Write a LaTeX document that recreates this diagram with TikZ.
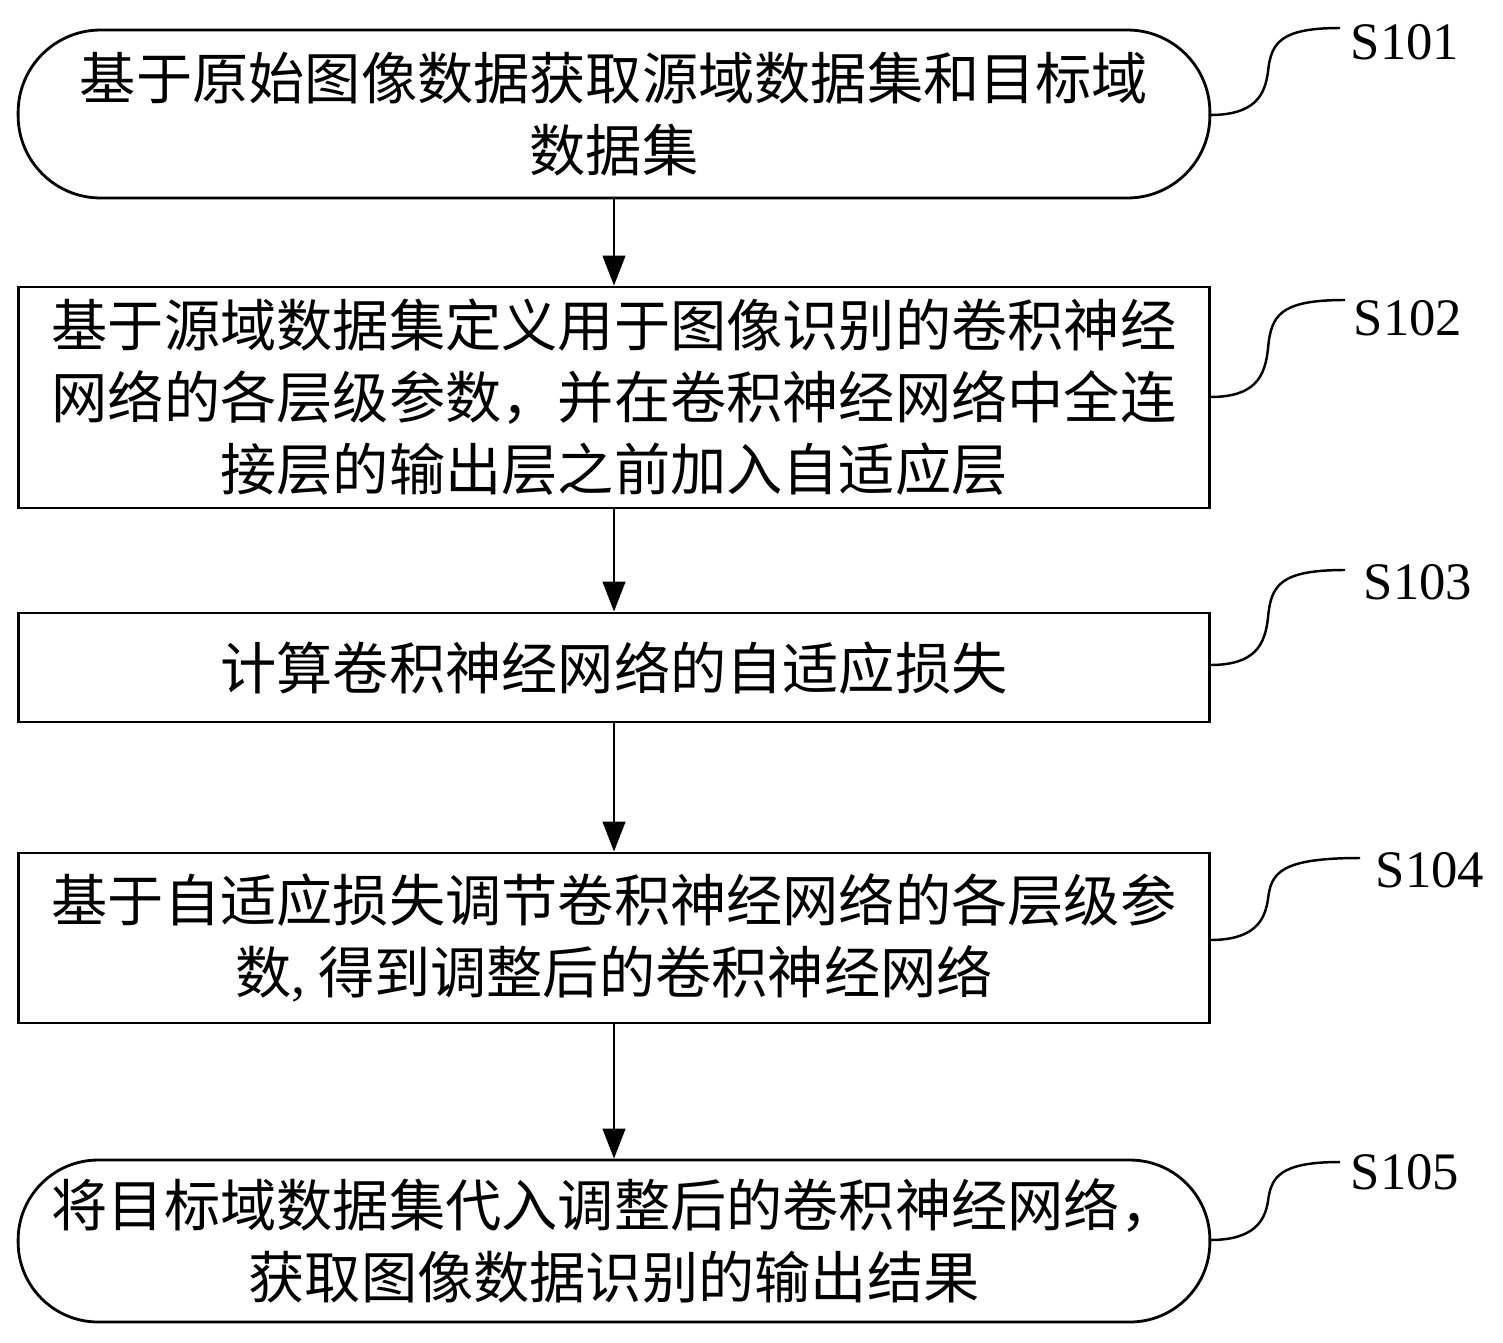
\documentclass[tikz,border=0pt]{standalone}
\usepackage{fontspec}
\setmainfont{Liberation Serif}
\newfontfamily\cjk{Noto Sans CJK SC}
\usetikzlibrary{arrows.meta}
\tikzset{
  stepbox/.style={draw,line width=1.6pt,minimum width=23.84cm,align=center,font=\cjk\fontsize{32}{41}\selectfont},
  flow/.style={-{Triangle[length=0.6cm,width=0.45cm]},line width=1.6pt},
  leader/.style={line width=1.4pt},
  steplabel/.style={font=\fontsize{30}{36}\selectfont}
}
\begin{document}
\begin{tikzpicture}[x=0.02cm,y=-0.02cm]
	\useasboundingbox (0,0) rectangle (1503,1342);
	\node[stepbox,rounded corners=1.65cm,minimum height=3.36cm] (s1) at (614,114) {基于原始图像数据获取源域数据集和目标域\\数据集};
	\node[stepbox,minimum height=4.42cm] (s2) at (614,397.5) {基于源域数据集定义用于图像识别的卷积神经\\网络的各层级参数，并在卷积神经网络中全连\\接层的输出层之前加入自适应层};
	\node[stepbox,minimum height=2.18cm] (s3) at (614,667.5) {计算卷积神经网络的自适应损失};
	\node[stepbox,minimum height=3.4cm] (s4) at (614,938) {基于自适应损失调节卷积神经网络的各层级参\\数{\rmfamily,} 得到调整后的卷积神经网络};
	\node[stepbox,rounded corners=1.6cm,minimum height=3.24cm] (s5) at (614,1241) {将目标域数据集代入调整后的卷积神经网络，\\获取图像数据识别的输出结果};
	% arrows
	\draw[flow] (s1) -- (s2);
	\draw[flow] (s2) -- (s3);
	\draw[flow] (s3) -- (s4);
	\draw[flow] (s4) -- (s5);
	% labels
	\node[steplabel] (l1) at (1405,42) {S101};
	\node[steplabel] (l2) at (1408,318) {S102};
	\node[steplabel] (l3) at (1418,582) {S103};
	\node[steplabel] (l4) at (1430,870) {S104};
	\node[steplabel] (l5) at (1405,1172) {S105};
	\foreach \n/\y/\t/\e in {1/115/28/1340,2/397/300/1345,3/665/570/1345,4/940/858/1360,5/1240/1162/1340}{
		\coordinate (a\n) at (1210,\y);
		\coordinate (b\n) at (\e,\t);
		\draw[leader] (a\n) .. controls (1255,\y) and (1265,\y-20) .. (1268,{(\y+\t)/2}) .. controls (1271,\t+15) and (1280,\t) .. (b\n);
	}
\end{tikzpicture}
\end{document}
